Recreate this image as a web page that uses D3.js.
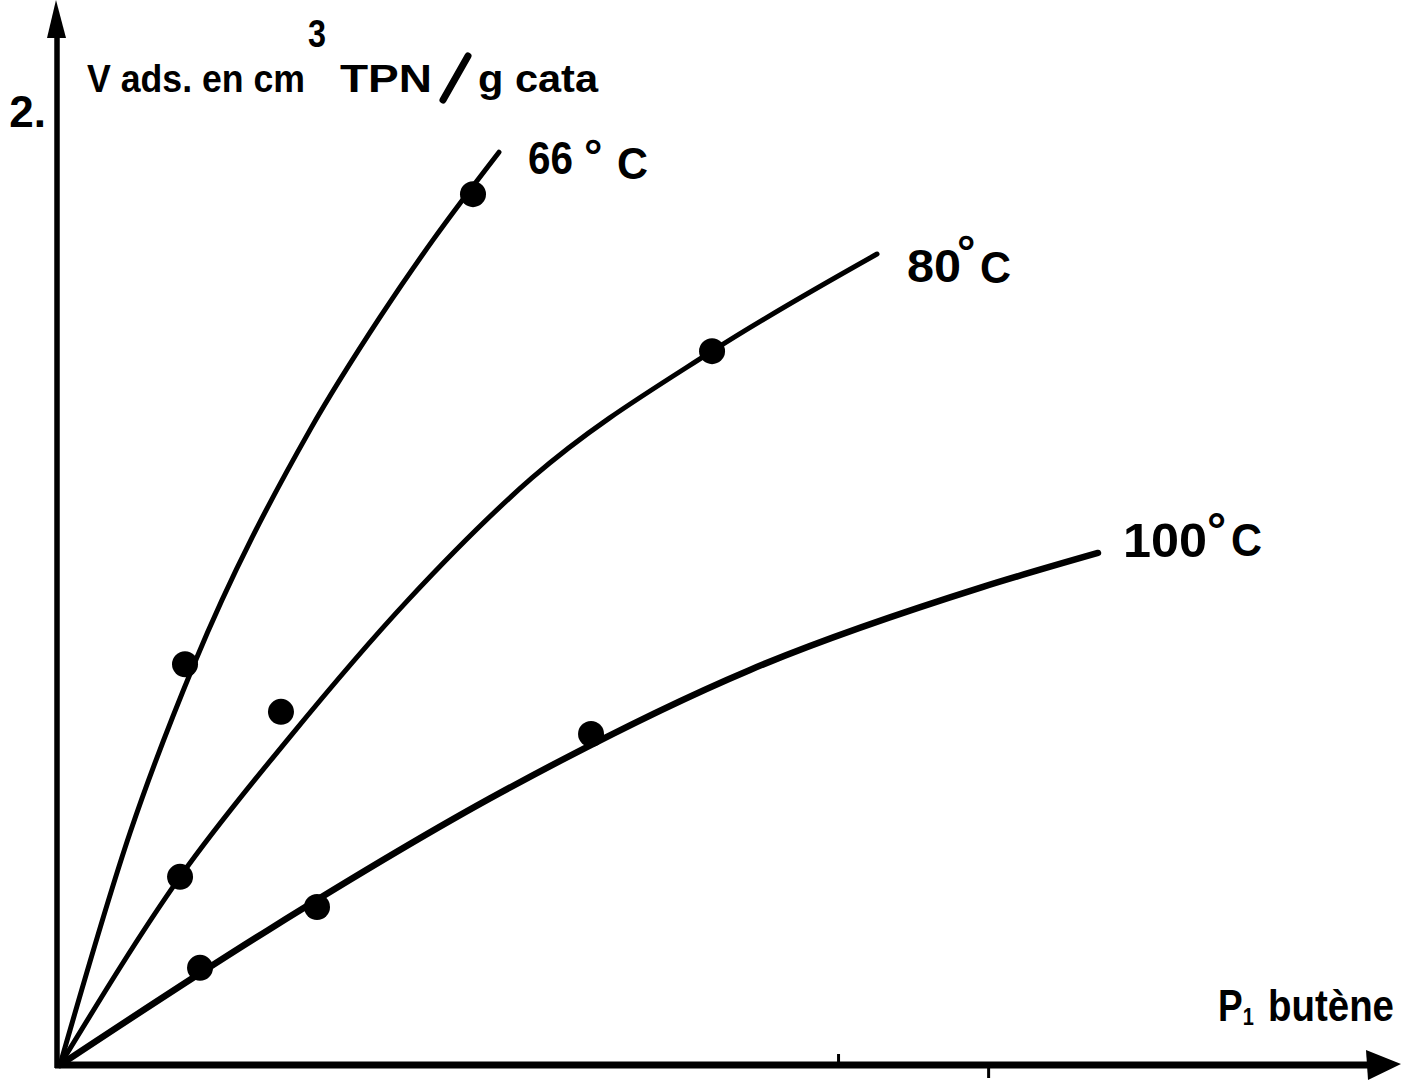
<!DOCTYPE html>
<html>
<head>
<meta charset="utf-8">
<script src="https://cdn.jsdelivr.net/npm/d3@7"></script>
<style>
  html, body { margin: 0; padding: 0; background: #fff; }
  svg { display: block; }
  text { font-family: "Liberation Sans Narrow", "Liberation Sans", Arial, sans-serif; font-weight: bold; fill: #000; }
</style>
</head>
<body>
<svg id="chart" width="1406" height="1081"></svg>
<script>
// Adsorption isotherms of 1-butene at three temperatures
const temperatures = ["66", "80", "100"];

// Smooth isotherm curves: [pressure (arbitrary units), V ads (cm3 TPN / g cata)]
const curve66 = [[0, 0], [5.22, 0.492], [10.0, 0.85], [18.66, 1.347], [23.88, 1.586], [27.84, 1.75], [32.76, 1.936]];
const curve80 = [[0, 0], [8.96, 0.399], [17.16, 0.696], [25.97, 0.986], [35.22, 1.245], [48.66, 1.514], [60.97, 1.72]];
const curve100 = [[0, 0], [15.52, 0.286], [32.84, 0.577], [51.49, 0.838], [68.88, 1.014], [77.46, 1.086]];

// Measured points
const points66 = [[9.33, 0.85], [30.82, 1.847]];
const points80 = [[8.96, 0.399], [16.49, 0.749], [48.66, 1.514]];
const points100 = [[10.45, 0.206], [19.18, 0.335], [39.63, 0.702]];

// Axis ticks
const yTickValues = [2];
const yTickLabels = ["2."];
const xMarks = [58.1, 69.3];

const series = [
  { t: temperatures[0], curve: curve66, pts: points66, width: 5 },
  { t: temperatures[1], curve: curve80, pts: points80, width: 5 },
  { t: temperatures[2], curve: curve100, pts: points100, width: 6.5 }
];

const svg = d3.select("#chart");
const x = d3.scaleLinear().domain([0, 100]).range([60, 1400]);
const y = d3.scaleLinear().domain([0, 2]).range([1065, 122]);

// Axes with arrowheads
const x0 = x(0), y0 = y(0);
svg.append("line").attr("x1", x0 - 3).attr("y1", y0 + 3).attr("x2", x0 - 3).attr("y2", 30)
  .attr("stroke", "#000").attr("stroke-width", 5.5);
svg.append("path").attr("d", `M${x0 - 4},0 L${x0 - 13},38 L${x0 + 6},38 Z`).attr("fill", "#000");
svg.append("line").attr("x1", x0 - 5).attr("y1", y0).attr("x2", 1372).attr("y2", y0)
  .attr("stroke", "#000").attr("stroke-width", 7);
svg.append("path").attr("d", `M1401,${y0 - 1} L1366,${y0 - 15} L1368,${y0 + 15} Z`).attr("fill", "#000");

// Small marks on the abscissa
svg.selectAll(".xmark").data(xMarks).join("line")
  .attr("x1", d => x(d)).attr("x2", d => x(d))
  .attr("y1", (d, i) => i === 0 ? y0 - 11 : y0)
  .attr("y2", (d, i) => i === 0 ? y0 : y0 + 13)
  .attr("stroke", "#000").attr("stroke-width", 3);

// Ordinate tick label
const yAxis = d3.axisLeft(y).tickValues(yTickValues).tickSize(0).tickPadding(0)
  .tickFormat((d, i) => yTickLabels[i]);
const yg = svg.append("g").attr("transform", `translate(${x0 - 14},0)`).call(yAxis);
yg.select(".domain").remove();
yg.selectAll("text").attr("font-size", 44).attr("dy", "0.1em")
  .style("font-family", "'Liberation Sans Narrow','Liberation Sans',Arial,sans-serif")
  .style("font-weight", "bold").attr("fill", "#000");

// Curves
const line = d3.line().x(d => x(d[0])).y(d => y(d[1])).curve(d3.curveMonotoneX);
svg.selectAll(".iso").data(series).join("path")
  .attr("class", "iso")
  .attr("d", d => line(d.curve))
  .attr("fill", "none").attr("stroke", "#000")
  .attr("stroke-width", d => d.width).attr("stroke-linecap", "round");

// Points
series.forEach(s => {
  svg.selectAll(null).data(s.pts).join("circle")
    .attr("cx", d => x(d[0])).attr("cy", d => y(d[1])).attr("r", 13).attr("fill", "#000");
});

// Curve labels
function tempLabel(numX, numW, base, degX, degBase, cX, cBase, t, fs) {
  svg.append("text").attr("x", numX).attr("y", base).attr("font-size", fs)
    .attr("textLength", numW).attr("lengthAdjust", "spacingAndGlyphs").text(t);
  svg.append("text").attr("x", degX).attr("y", degBase).attr("font-size", fs).text("°");
  svg.append("text").attr("x", cX).attr("y", cBase).attr("font-size", fs * 0.95)
    .attr("textLength", 31).attr("lengthAdjust", "spacingAndGlyphs").text("C");
}
tempLabel(528, 45, 174, 584, 172, 617, 179, series[0].t, 46);
tempLabel(907, 54, 282, 957, 268, 980, 283, series[1].t, 46);
tempLabel(1123, 84, 557, 1207, 547, 1231, 556, series[2].t, 48);

// Axis titles
svg.append("text").attr("x", 87).attr("y", 92).attr("font-size", 38)
  .attr("textLength", 218).attr("lengthAdjust", "spacingAndGlyphs").text("V ads. en cm");
svg.append("text").attr("x", 308).attr("y", 47).attr("font-size", 38)
  .attr("textLength", 18).attr("lengthAdjust", "spacingAndGlyphs").text("3");
svg.append("text").attr("x", 340).attr("y", 92).attr("font-size", 38)
  .attr("textLength", 92).attr("lengthAdjust", "spacingAndGlyphs").text("TPN");
svg.append("line").attr("x1", 468).attr("y1", 56).attr("x2", 443).attr("y2", 100)
  .attr("stroke", "#000").attr("stroke-width", 7).attr("stroke-linecap", "round");
svg.append("text").attr("x", 478).attr("y", 92).attr("font-size", 38)
  .attr("textLength", 120).attr("lengthAdjust", "spacingAndGlyphs").text("g cata");

// Abscissa title, stretched vertically to the condensed bold look
const xt = svg.append("g").attr("transform", "translate(1218,1021) scale(1,1.22)");
const px = xt.append("text").attr("x", 0).attr("y", 0).attr("font-size", 37);
px.append("tspan").text("P");
px.append("tspan").attr("font-size", 20).attr("dy", 3).text("1");
xt.append("text").attr("x", 50).attr("y", 0).attr("font-size", 37)
  .attr("textLength", 126).attr("lengthAdjust", "spacingAndGlyphs").text("butène");
</script>
</body>
</html>
